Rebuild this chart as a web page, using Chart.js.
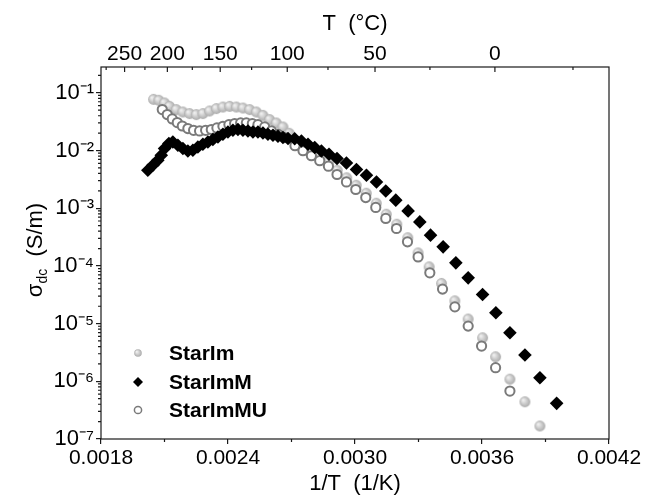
<!DOCTYPE html>
<html>
<head>
<meta charset="utf-8">
<script src="https://cdn.jsdelivr.net/npm/chart.js@4.4.0/dist/chart.umd.min.js"></script>
<style>
  html, body { margin: 0; padding: 0; background: #fff; }
  #wrap { width: 645px; height: 497px; }
</style>
</head>
<body>
<div id="wrap"><canvas id="sigmaChart" width="645" height="497"></canvas></div>
<script>
// values: x = 1/T (1/K), y = sigma_dc (S/m)
const starImX = [0.0020483, 0.0020733, 0.0021003, 0.0021239, 0.0021556, 0.0021868, 0.0022185, 0.0022502, 0.0022814, 0.0023131,
  0.0023448, 0.0023760, 0.0024077, 0.0024394, 0.0024706, 0.0025023, 0.0025340, 0.0025652, 0.0025968, 0.0026285,
  0.0026597, 0.0026891, 0.0027174, 0.0027553, 0.0027955, 0.0028357, 0.0028759, 0.0029161, 0.0029610, 0.0030059,
  0.0030532, 0.0031005, 0.0031478, 0.0031975, 0.0032495, 0.0032982, 0.0033502, 0.0034089, 0.0034718, 0.0035347,
  0.0036027, 0.0036642, 0.0037319, 0.0038028, 0.0038737];
const starImY = [0.077, 0.0741, 0.0666, 0.0583, 0.0512, 0.0465, 0.0436, 0.0419, 0.0436, 0.0484,
  0.0533, 0.0567, 0.0583, 0.0567, 0.0545, 0.0512, 0.0465, 0.0407, 0.0343, 0.0300,
  0.0256, 0.0199, 0.01445, 0.01161, 0.00951, 0.00780, 0.00614, 0.00455, 0.00337, 0.00250,
  0.00182, 0.00122, 7.87e-4, 5.28e-4, 3.08e-4, 1.68e-4, 9.63e-5, 4.97e-5, 2.48e-5, 1.20e-5,
  5.68e-6, 2.66e-6, 1.09e-6, 4.42e-7, 1.68e-7];

const starImMX = [0.0020213, 0.0020450, 0.0020686, 0.0020847, 0.0021003, 0.0021206, 0.0021395, 0.0021632, 0.0021868, 0.0022105,
  0.0022341, 0.0022578, 0.0022814, 0.0023051, 0.0023287, 0.0023524, 0.0023760, 0.0023997, 0.0024233, 0.0024469,
  0.0024706, 0.0024942, 0.0025179, 0.0025415, 0.0025652, 0.0025888, 0.0026125, 0.0026361, 0.0026597, 0.0026834,
  0.0027151, 0.0027468, 0.0027780, 0.0028097, 0.0028413, 0.0028773, 0.0029151, 0.0029596, 0.0030069, 0.0030542,
  0.0031015, 0.0031454, 0.0031927, 0.0032509, 0.0033062, 0.0033568, 0.0034164, 0.0034765, 0.0035347, 0.0036027,
  0.0036656, 0.0037319, 0.0038028, 0.0038736, 0.0039527];
const starImMY = [0.00455, 0.00556, 0.00678, 0.00828, 0.01081, 0.01319, 0.01406, 0.01233, 0.01081, 0.00982,
  0.01009, 0.01151, 0.01283, 0.01406, 0.01548, 0.01718, 0.01911, 0.02094, 0.02243, 0.02307,
  0.02243, 0.02182, 0.02094, 0.02094, 0.02013, 0.01911, 0.01837, 0.01766, 0.01676, 0.01610,
  0.01596, 0.01462, 0.01283, 0.01125, 0.00982, 0.00861, 0.00726, 0.00608, 0.00468, 0.00372,
  0.00285, 0.00199, 0.00138, 8.98e-4, 5.79e-4, 3.41e-4, 2.14e-4, 1.13e-4, 6.21e-5, 3.20e-5,
  1.54e-5, 6.93e-6, 2.85e-6, 1.15e-6, 4.15e-7];

const starImMUX = [0.0020894, 0.0021131, 0.0021367, 0.0021604, 0.0021840, 0.0022105, 0.0022374, 0.0022658, 0.0022942, 0.0023211,
  0.0023476, 0.0023760, 0.0024044, 0.0024313, 0.0024597, 0.0024867, 0.0025150, 0.0025415, 0.0025732, 0.0026049,
  0.0026361, 0.0026678, 0.0027165, 0.0027543, 0.0027940, 0.0028333, 0.0028744, 0.0029151, 0.0029596, 0.0030036,
  0.0030508, 0.0030981, 0.0031454, 0.0031960, 0.0032480, 0.0032982, 0.0033535, 0.0034136, 0.0034718, 0.0035347,
  0.0035980, 0.0036642, 0.0037319];
const starImMUY = [0.0512, 0.0420, 0.0352, 0.0305, 0.0266, 0.0240, 0.0224, 0.0218, 0.0224, 0.0231,
  0.0246, 0.0263, 0.0281, 0.0293, 0.0300, 0.0300, 0.0293, 0.0281, 0.0256, 0.0218,
  0.0191, 0.0167, 0.0121, 0.00991, 0.00811, 0.00665, 0.00534, 0.00384, 0.00285, 0.00211,
  0.00153, 0.00103, 6.64e-4, 4.45e-4, 2.61e-4, 1.43e-4, 7.59e-5, 3.96e-5, 1.95e-5, 9.05e-6,
  4.08e-6, 1.72e-6, 6.78e-7];

// axis ticks
const xTickValues = [0.0018, 0.0024, 0.0030, 0.0036, 0.0042];
const xTickLabels = ['0.0018', '0.0024', '0.0030', '0.0036', '0.0042'];
const xMinorTicks = [0.0021, 0.0027, 0.0033, 0.0039];
const topTempLabels = [250, 200, 150, 100, 50, 0];
const topTempMinor = [275, 225, 175, 125, 75, 25, -25];
const yDecades = [-7, -6, -5, -4, -3, -2, -1];
const yTickLabels = ['10⁻⁷', '10⁻⁶', '10⁻⁵', '10⁻⁴', '10⁻³', '10⁻²', '10⁻¹'];
const seriesNames = ['StarIm', 'StarImM', 'StarImMU'];

const FONT = "'Liberation Sans', Arial, Helvetica, sans-serif";
const toK = t => 1 / (t + 273.15);
const pts = (xs, ys) => xs.map((x, i) => ({ x: x, y: ys[i] }));

// small shaded sphere like the grey markers of the original
function sphere(r) {
  const c = document.createElement('canvas');
  const s = Math.ceil(r * 2 + 2);
  c.width = s; c.height = s;
  const g = c.getContext('2d');
  const m = s / 2;
  const grad = g.createRadialGradient(m - r * 0.35, m - r * 0.35, r * 0.1, m, m, r);
  grad.addColorStop(0, '#f0f0f0');
  grad.addColorStop(0.55, '#cacaca');
  grad.addColorStop(1, '#ababab');
  g.fillStyle = grad;
  g.beginPath(); g.arc(m, m, r, 0, Math.PI * 2); g.fill();
  return c;
}
const bigSphere = sphere(5.4);
const smallSphere = sphere(3.8);

const extras = {
  id: 'extras',
  afterDraw(chart) {
    const { ctx, chartArea: a, scales } = chart;
    ctx.save();
    ctx.strokeStyle = '#1a1a1a';
    ctx.lineWidth = 1.2;
    ctx.strokeRect(a.left, a.top, a.right - a.left, a.bottom - a.top);
    ctx.beginPath();
    yDecades.forEach(n => {
      for (let k = 2; k <= 9; k++) {
        const v = k * Math.pow(10, n);
        if (v > scales.y.max) continue;
        const py = scales.y.getPixelForValue(v);
        ctx.moveTo(a.left - 3, py); ctx.lineTo(a.left, py);
      }
    });
    xMinorTicks.forEach(v => {
      const px = scales.x.getPixelForValue(v);
      ctx.moveTo(px, a.bottom); ctx.lineTo(px, a.bottom + 3);
    });
    topTempLabels.forEach(t => {
      const px = scales.x2.getPixelForValue(toK(t));
      ctx.moveTo(px, a.top); ctx.lineTo(px, a.top + 5);
    });
    topTempMinor.forEach(t => {
      const px = scales.x2.getPixelForValue(toK(t));
      if (px < a.left || px > a.right) return;
      ctx.moveTo(px, a.top); ctx.lineTo(px, a.top + 3);
    });
    ctx.stroke();

    // y axis title with subscript
    ctx.fillStyle = '#000';
    ctx.translate(34, 250);
    ctx.rotate(-Math.PI / 2);
    const main = '22px ' + FONT, sub = '14px ' + FONT;
    ctx.font = main;
    const wSig = ctx.measureText('σ').width;
    const wRest = ctx.measureText('  (S/m)').width;
    ctx.font = sub;
    const wSub = ctx.measureText('dc').width;
    let x = -(wSig + wSub + wRest) / 2;
    ctx.font = main; ctx.fillText('σ', x, 8); x += wSig;
    ctx.font = sub; ctx.fillText('dc', x, 13); x += wSub;
    ctx.font = main; ctx.fillText('  (S/m)', x, 8);
    ctx.restore();

    // legend, bottom left inside the frame
    ctx.save();
    const lx = 138, rows = [353, 382, 410];
    ctx.drawImage(smallSphere, lx - smallSphere.width / 2, rows[0] - smallSphere.height / 2);
    ctx.fillStyle = '#000';
    ctx.beginPath();
    ctx.moveTo(lx - 5, rows[1]); ctx.lineTo(lx, rows[1] - 5); ctx.lineTo(lx + 5, rows[1]); ctx.lineTo(lx, rows[1] + 5);
    ctx.closePath(); ctx.fill();
    ctx.strokeStyle = '#7a7a7a'; ctx.lineWidth = 1.5;
    ctx.beginPath(); ctx.arc(lx, rows[2], 3.6, 0, Math.PI * 2); ctx.stroke();
    ctx.font = 'bold 21px ' + FONT;
    ctx.textBaseline = 'middle';
    seriesNames.forEach((n, i) => ctx.fillText(n, 169, rows[i] + 1));
    ctx.restore();
  }
};

const tickFont = { family: FONT, size: 21 };
const titleFont = { family: FONT, size: 22 };

const config = {
  type: 'scatter',
  data: {
    datasets: [
      { label: seriesNames[0], data: pts(starImX, starImY), pointStyle: bigSphere, pointRadius: 5, order: 3 },
      { label: seriesNames[1], data: pts(starImMX, starImMY), pointStyle: 'rectRot', pointRadius: 6.8,
        backgroundColor: '#000', borderColor: '#000', borderWidth: 0, order: 1 },
      { label: seriesNames[2], data: pts(starImMUX, starImMUY), pointStyle: 'circle', pointRadius: 4.6,
        backgroundColor: '#fff', borderColor: '#7a7a7a', borderWidth: 2, order: 2 }
    ]
  },
  options: {
    responsive: false,
    animation: false,
    layout: { padding: { left: 0, right: 36, top: 0, bottom: 0 } },
    plugins: { legend: { display: false }, tooltip: { enabled: false } },
    scales: {
      x: {
        type: 'linear', position: 'bottom', min: 0.0018, max: 0.0042,
        afterBuildTicks: s => { s.ticks = xTickValues.map(v => ({ value: v })); },
        afterFit: s => { s.height = 58; },
        ticks: { callback: (v, i) => xTickLabels[i], autoSkip: false, maxRotation: 0, padding: 2, color: '#000', font: tickFont },
        grid: { drawOnChartArea: false, drawTicks: true, tickLength: 5, color: '#1a1a1a', lineWidth: 1.2 },
        border: { display: false },
        title: { display: true, text: '1/T  (1/K)', color: '#000', font: titleFont, padding: { top: 0, bottom: 0 } }
      },
      x2: {
        type: 'linear', position: 'top', min: 0.0018, max: 0.0042,
        afterBuildTicks: s => { s.ticks = topTempLabels.map(t => ({ value: toK(t) })); },
        afterFit: s => { s.height = 67; },
        ticks: { callback: (v, i) => String(topTempLabels[i]), autoSkip: false, maxRotation: 0, padding: 0, color: '#000', font: tickFont },
        grid: { drawOnChartArea: false, drawTicks: false },
        border: { display: false },
        title: { display: true, text: 'T  (°C)', color: '#000', font: titleFont, padding: { top: 11, bottom: 0 } }
      },
      y: {
        type: 'logarithmic', position: 'left', min: 1e-7, max: 0.28,
        afterBuildTicks: s => { s.ticks = yDecades.map(n => ({ value: Math.pow(10, n) })); },
        afterFit: s => { s.width = 101; },
        ticks: { callback: (v, i) => yTickLabels[i], autoSkip: false, padding: 2, color: '#000', font: { family: FONT, size: 22 } },
        grid: { drawOnChartArea: false, drawTicks: true, tickLength: 5, color: '#1a1a1a', lineWidth: 1.2 },
        border: { display: false }
      }
    }
  },
  plugins: [extras]
};

const sigmaChart = new Chart(document.getElementById('sigmaChart'), config);
</script>
</body>
</html>
